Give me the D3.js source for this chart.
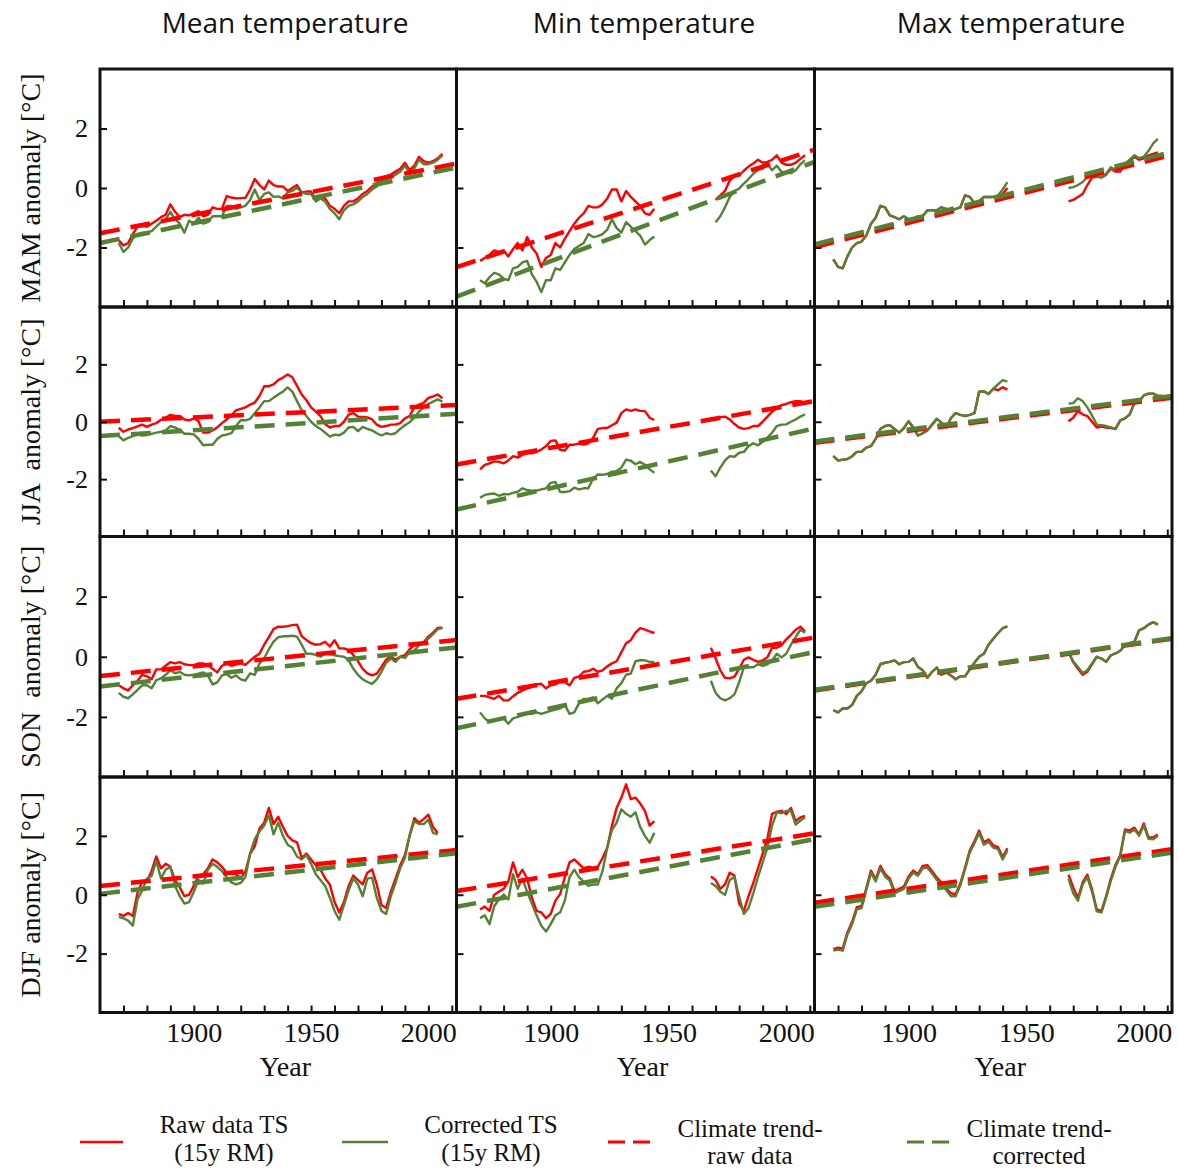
<!DOCTYPE html>
<html>
<head>
<meta charset="utf-8">
<script src="https://cdn.jsdelivr.net/npm/d3@7"></script>
<style>
  html, body { margin: 0; padding: 0; background: #fff; }
  svg { display: block; }
  .serif { font-family: "Liberation Serif", "Times New Roman", serif; fill: #111; }
  .sans { font-family: "Open Sans", "Noto Sans", sans-serif; fill: #111; }
</style>
</head>
<body>
<svg id="chart" width="1178" height="1170"></svg>
<script>
// ---- shared axes / labels ----
const years = [
  1868,
  1870, 1872, 1874, 1876, 1878,
  1880, 1882, 1884, 1886, 1888,
  1890, 1892, 1894, 1896, 1898,
  1900, 1902, 1904, 1906, 1908,
  1910, 1912, 1914, 1916, 1918,
  1920, 1922, 1924, 1926, 1928,
  1930, 1932, 1934, 1936, 1938,
  1940, 1942, 1944, 1946, 1948,
  1950, 1952, 1954, 1956, 1958,
  1960, 1962, 1964, 1966, 1968,
  1970, 1972, 1974, 1976, 1978,
  1980, 1982, 1984, 1986, 1988,
  1990, 1992, 1994, 1996, 1998,
  2000, 2002, 2004, 2006, 2008
];
const columnTitles = ["Mean temperature", "Min temperature", "Max temperature"];
const seasonLabels = ["MAM anomaly [°C]", "JJA  anomaly [°C]", "SON  anomaly [°C]", "DJF anomaly [°C]"];
const yTickValues = [-2, 0, 2];
const xTickValues = [1870, 1880, 1890, 1900, 1910, 1920, 1930, 1940, 1950, 1960, 1970, 1980, 1990, 2000, 2010];
const xLabelValues = [1900, 1950, 2000];
const trendYears = [1860, 2012];

// ---- MAM ----
const mamMeanRaw = [
  -1.76,
  -1.93, -1.85, -1.55, -1.30, -1.28,
  -1.30, -1.20, -1.10, -0.98, -0.90,
  -0.55, -0.80, -0.98, -0.90, -0.92,
  -0.85, -0.78, -0.95, -0.90, -0.65,
  -0.70, -0.70, -0.27, -0.32, -0.35,
  -0.34, -0.33, -0.05, 0.30, 0.10,
  -0.05, 0.25, 0.10, 0.05, 0.05,
  -0.10, 0.00, 0.10, -0.15, -0.12,
  -0.12, -0.40, -0.28, -0.35, -0.60,
  -0.70, -0.85, -0.60, -0.45, -0.45,
  -0.35, -0.20, -0.10, 0.05, 0.15,
  0.35, 0.40, 0.45, 0.55, 0.65,
  0.85, 0.60, 0.75, 1.05, 0.90,
  0.85, 0.90, 1.00, 1.15, null
];
const mamMeanCor = [
  -1.85,
  -2.15, -2.00, -1.70, -1.55, -1.50,
  -1.50, -1.45, -1.30, -1.15, -1.05,
  -0.80, -1.05, -1.20, -1.50, -1.10,
  -1.20, -1.00, -1.20, -1.15, -0.95,
  -0.95, -0.95, -0.60, -0.60, -0.70,
  -0.65, -0.60, -0.40, -0.05, -0.40,
  -0.20, -0.15, -0.30, -0.28, -0.35,
  -0.15, -0.10, 0.00, -0.15, -0.20,
  -0.20, -0.45, -0.35, -0.45, -0.70,
  -0.85, -1.05, -0.75, -0.60, -0.55,
  -0.45, -0.30, -0.20, -0.05, 0.05,
  0.25, 0.30, 0.35, 0.45, 0.55,
  0.75, 0.50, 0.65, 0.95, 0.80,
  0.80, 0.85, 0.95, 1.10, null
];
const mamMinRaw = [
  null,
  -2.45, -2.35, -2.25, -2.10, -2.15,
  -2.10, -2.30, -2.05, -1.85, -2.10,
  -1.65, -2.00, -2.20, -2.65, -2.35,
  -2.25, -1.85, -2.00, -1.70, -1.45,
  -1.20, -1.00, -0.85, -0.60, -0.65,
  -0.65, -0.55, -0.35, -0.05, -0.05,
  -0.45, -0.10, -0.30, -0.45, -0.60,
  -0.85, -0.90, -0.70, null, null,
  null, null, null, null, null,
  null, null, null, null, null,
  -0.40, -0.25, -0.10, 0.25, 0.40,
  0.42, 0.58, 0.72, 0.82, 0.95,
  0.85, 0.88, 0.95, 1.10, 0.85,
  0.78, 0.78, 0.85, 0.98, 1.10
];
const mamMinCor = [
  null,
  -3.10, -3.20, -3.00, -2.85, -2.90,
  -3.05, -3.10, -2.70, -2.65, -2.50,
  -2.45, -2.90, -3.15, -3.50, -3.10,
  -3.10, -2.70, -2.75, -2.50, -2.25,
  -2.05, -1.95, -1.85, -1.55, -1.65,
  -1.62, -1.55, -1.40, -1.05, -1.35,
  -1.50, -1.15, -1.30, -1.45, -1.60,
  -1.90, -1.75, -1.63, null, null,
  null, null, null, null, null,
  null, null, null, null, null,
  -1.15, -0.95, -0.65, -0.30, -0.10,
  -0.02, 0.15, 0.30, 0.48, 0.60,
  0.65, 0.80, 0.60, 0.75, 0.55,
  0.50, 0.50, 0.60, 0.80, 0.93
];
const mamMaxRaw = [
  -2.40,
  -2.65, -2.70, -2.30, -2.00, -1.85,
  -1.80, -1.60, -1.20, -1.00, -0.60,
  -0.65, -0.92, -0.98, -1.05, -0.95,
  -1.05, -1.05, -0.95, -0.95, -0.75,
  -0.75, -0.75, -0.65, -0.70, -0.78,
  -0.70, -0.65, -0.25, -0.30, -0.50,
  -0.45, -0.30, -0.30, -0.30, -0.30,
  -0.20, 0.00, null, null, null,
  null, null, null, null, null,
  null, null, null, null, -0.45,
  -0.40, -0.30, -0.20, 0.10, 0.35,
  0.38, 0.35, 0.45, 0.65, 0.55,
  0.55, 0.78, 0.90, 1.05, 0.95,
  1.00, 1.10, 1.15, 1.20, null
];
const mamMaxCor = [
  -2.40,
  -2.65, -2.70, -2.30, -2.00, -1.85,
  -1.80, -1.60, -1.20, -1.00, -0.60,
  -0.65, -0.92, -0.98, -1.05, -0.95,
  -1.05, -1.05, -0.95, -0.95, -0.75,
  -0.75, -0.75, -0.65, -0.70, -0.78,
  -0.70, -0.65, -0.25, -0.30, -0.50,
  -0.45, -0.30, -0.30, -0.30, -0.25,
  -0.05, 0.20, null, null, null,
  null, null, null, null, null,
  null, null, null, null, 0.00,
  0.03, 0.10, 0.20, 0.37, 0.40,
  0.40, 0.38, 0.48, 0.70, 0.60,
  0.60, 0.82, 0.95, 1.10, 1.00,
  1.05, 1.25, 1.50, 1.65, null
];

// ---- JJA ----
const jjaMeanRaw = [
  -0.21,
  -0.35, -0.27, -0.22, -0.16, -0.10,
  -0.18, -0.10, -0.05, 0.07, 0.14,
  0.24, 0.20, 0.20, 0.08, 0.05,
  0.12, 0.02, -0.38, -0.38, -0.30,
  -0.20, -0.05, 0.08, 0.22, 0.40,
  0.45, 0.50, 0.60, 0.67, 0.90,
  1.24, 1.24, 1.30, 1.45, 1.54,
  1.65, 1.55, 1.25, 0.95, 0.75,
  0.50, 0.35, 0.20, -0.08, -0.20,
  -0.15, -0.15, 0.00, 0.25, 0.30,
  0.18, 0.17, 0.15, 0.08, -0.10,
  -0.18, -0.15, -0.10, -0.10, -0.05,
  0.12, 0.20, 0.50, 0.60, 0.66,
  0.83, 0.88, 0.95, 0.82, null
];
const jjaMeanCor = [
  -0.50,
  -0.65, -0.56, -0.50, -0.44, -0.48,
  -0.46, -0.42, -0.38, -0.35, -0.30,
  -0.15, -0.20, -0.27, -0.42, -0.42,
  -0.44, -0.60, -0.82, -0.80, -0.80,
  -0.60, -0.48, -0.45, -0.40, -0.15,
  0.05, 0.05, 0.10, 0.30, 0.50,
  0.72, 0.72, 0.84, 0.95, 1.05,
  1.20, 1.05, 0.72, 0.40, 0.20,
  0.00, -0.15, -0.25, -0.38, -0.52,
  -0.45, -0.47, -0.38, -0.20, -0.18,
  -0.33, -0.18, -0.25, -0.30, -0.40,
  -0.48, -0.40, -0.44, -0.40, -0.25,
  -0.12, -0.02, 0.15, 0.35, 0.50,
  0.62, 0.70, 0.78, 0.70, null
];
const jjaMinRaw = [
  null,
  -1.66, -1.50, -1.45, -1.38, -1.40,
  -1.45, -1.35, -1.20, -1.25, -1.15,
  -1.10, -1.10, -1.05, -0.97, -0.85,
  -0.67, -0.65, -0.98, -1.00, -0.80,
  -0.80, -0.76, -0.80, -0.75, -0.56,
  -0.25, -0.22, -0.22, -0.12, -0.03,
  0.30, 0.43, 0.38, 0.43, 0.38,
  0.37, 0.14, 0.06, null, null,
  null, null, null, null, null,
  null, null, null, null, 0.10,
  0.10, 0.16, 0.18, 0.08, -0.08,
  -0.20, -0.25, -0.22, -0.15, -0.15,
  0.00, 0.18, 0.35, 0.48, 0.58,
  0.62, 0.68, 0.72, 0.72, 0.66
];
const jjaMinCor = [
  null,
  -2.65, -2.55, -2.52, -2.50, -2.58,
  -2.52, -2.53, -2.48, -2.44, -2.32,
  -2.38, -2.40, -2.40, -2.36, -2.32,
  -2.13, -2.10, -2.45, -2.45, -2.42,
  -2.30, -2.36, -2.32, -2.32, -1.98,
  -1.84, -1.85, -1.82, -1.74, -1.72,
  -1.60, -1.32, -1.36, -1.48, -1.40,
  -1.50, -1.66, -1.78, null, null,
  null, null, null, null, null,
  null, null, null, null, -1.70,
  -1.90, -1.60, -1.35, -1.20, -1.22,
  -1.08, -1.05, -0.85, -0.75, -0.82,
  -0.70, -0.55, -0.38, -0.15, -0.10,
  -0.09, 0.00, 0.08, 0.18, 0.26
];
const jjaMaxRaw = [
  -1.20,
  -1.35, -1.32, -1.30, -1.20, -1.05,
  -1.05, -0.90, -0.85, -0.60, -0.25,
  -0.15, -0.12, -0.25, -0.38, -0.22,
  0.02, -0.20, -0.48, -0.40, -0.30,
  -0.10, 0.10, -0.03, -0.20, 0.12,
  0.30, 0.24, 0.20, 0.24, 0.30,
  1.05, 1.06, 0.97, 1.15, 1.10,
  1.20, 1.12, null, null, null,
  null, null, null, null, null,
  null, null, null, null, 0.02,
  0.14, 0.37, 0.26, 0.20, 0.00,
  -0.20, -0.17, -0.20, -0.22, -0.25,
  0.05, 0.12, 0.25, 0.65, 0.70,
  0.92, 0.98, 0.98, 0.90, 0.90
];
const jjaMaxCor = [
  -1.20,
  -1.35, -1.32, -1.30, -1.20, -1.05,
  -1.05, -0.90, -0.85, -0.60, -0.25,
  -0.15, -0.12, -0.25, -0.38, -0.22,
  0.02, -0.20, -0.48, -0.40, -0.30,
  -0.10, 0.10, -0.03, -0.20, 0.12,
  0.30, 0.24, 0.20, 0.24, 0.30,
  1.05, 1.06, 0.97, 1.15, 1.30,
  1.45, 1.40, null, null, null,
  null, null, null, null, null,
  null, null, null, null, 0.63,
  0.65, 0.82, 0.72, 0.50, 0.22,
  -0.10, -0.12, -0.15, -0.20, -0.25,
  0.05, 0.12, 0.25, 0.65, 0.70,
  0.92, 0.98, 0.98, 0.90, 0.90
];

// ---- SON ----
const sonMeanRaw = [
  -0.95,
  -1.05, -1.12, -0.95, -0.80, -0.60,
  -0.65, -0.75, -0.42, -0.42, -0.30,
  -0.18, -0.22, -0.18, -0.25, -0.28,
  -0.28, -0.22, -0.22, -0.28, -0.40,
  -0.52, -0.30, -0.22, -0.30, -0.26,
  -0.22, -0.27, -0.13, 0.00, 0.10,
  0.40, 0.65, 0.92, 1.00, 1.00,
  1.02, 1.05, 1.07, 0.68, 0.56,
  0.45, 0.40, 0.42, 0.50, 0.34,
  0.55, 0.28, 0.28, 0.22, 0.06,
  -0.15, -0.40, -0.55, -0.62, -0.56,
  -0.34, -0.10, 0.00, -0.10, 0.00,
  0.05, 0.25, 0.38, 0.40, 0.48,
  0.67, 0.80, 0.96, 0.97, null
];
const sonMeanCor = [
  -1.20,
  -1.33, -1.38, -1.25, -1.10, -0.95,
  -0.95, -1.05, -0.78, -0.72, -0.60,
  -0.45, -0.55, -0.50, -0.60, -0.62,
  -0.60, -0.56, -0.52, -0.62, -0.92,
  -0.85, -0.62, -0.58, -0.70, -0.62,
  -0.75, -0.79, -0.55, -0.60, -0.22,
  -0.05, 0.25, 0.50, 0.65, 0.68,
  0.68, 0.70, 0.67, 0.40, 0.10,
  0.10, 0.06, 0.00, 0.10, 0.08,
  0.05, 0.02, 0.00, -0.11, -0.40,
  -0.60, -0.75, -0.84, -0.90, -0.75,
  -0.50, -0.20, -0.06, -0.17, 0.00,
  -0.04, 0.15, 0.20, 0.38, 0.45,
  0.60, 0.75, 0.92, 0.95, null
];
const sonMinRaw = [
  null,
  -1.30, -1.30, -1.35, -1.40, -1.30,
  -1.45, -1.45, -1.32, -1.20, -1.12,
  -1.05, -1.00, -0.92, -0.90, -1.05,
  -0.95, -0.92, -0.84, -0.85, -0.95,
  -0.70, -0.66, -0.50, -0.48, -0.40,
  -0.50, -0.45, -0.32, -0.22, -0.15,
  0.15, 0.45, 0.55, 0.80, 0.95,
  0.90, 0.84, 0.79, null, null,
  null, null, null, null, null,
  null, null, null, null, 0.30,
  -0.05, -0.45, -0.70, -0.72, -0.66,
  -0.40, -0.10, -0.02, -0.10, -0.17,
  -0.12, -0.02, 0.30, 0.30, 0.38,
  0.58, 0.73, 0.90, 1.00, 0.84
];
const sonMinCor = [
  null,
  -1.85, -2.05, -2.17, -2.12, -2.05,
  -2.05, -2.23, -2.05, -2.00, -1.95,
  -1.88, -1.90, -1.85, -1.90, -1.85,
  -1.80, -1.76, -1.72, -1.60, -1.90,
  -1.85, -1.55, -1.40, -1.40, -1.35,
  -1.55, -1.42, -1.30, -1.40, -1.05,
  -0.88, -0.60, -0.56, -0.15, -0.11,
  -0.12, -0.17, -0.17, null, null,
  null, null, null, null, null,
  null, null, null, null, -0.80,
  -1.20, -1.38, -1.45, -1.38, -1.25,
  -0.85, -0.35, -0.35, -0.35, -0.25,
  -0.30, -0.25, -0.12, 0.10, -0.02,
  0.10, 0.40, 0.65, 0.90, 0.80
];
const sonMaxRaw = [
  -1.78,
  -1.85, -1.72, -1.72, -1.60, -1.30,
  -1.15, -0.88, -0.80, -0.60, -0.25,
  -0.20, -0.17, -0.12, -0.25, -0.18,
  -0.17, -0.06, -0.34, -0.45, -0.70,
  -0.50, -0.36, -0.60, -0.52, -0.62,
  -0.75, -0.65, -0.65, -0.42, -0.20,
  0.00, 0.10, 0.40, 0.60, 0.78,
  0.95, 1.01, null, null, null,
  null, null, null, null, null,
  null, null, null, null, 0.15,
  -0.18, -0.40, -0.60, -0.50, -0.25,
  0.00, -0.06, -0.17, 0.05, 0.11,
  0.20, 0.38, 0.45, 0.50, 0.88,
  0.95, 1.07, 1.15, 1.07, null
];
const sonMaxCor = [
  -1.78,
  -1.85, -1.72, -1.72, -1.60, -1.30,
  -1.15, -0.88, -0.80, -0.60, -0.25,
  -0.20, -0.17, -0.12, -0.25, -0.18,
  -0.17, -0.06, -0.34, -0.45, -0.70,
  -0.50, -0.36, -0.60, -0.52, -0.62,
  -0.75, -0.65, -0.65, -0.42, -0.20,
  0.00, 0.10, 0.40, 0.60, 0.78,
  0.95, 1.01, null, null, null,
  null, null, null, null, null,
  null, null, null, null, 0.17,
  -0.15, -0.34, -0.54, -0.45, -0.22,
  0.00, -0.06, -0.17, 0.05, 0.11,
  0.20, 0.38, 0.45, 0.50, 0.88,
  0.95, 1.07, 1.15, 1.07, null
];

// ---- DJF ----
const djfMeanRaw = [
  -0.65,
  -0.72, -0.62, -0.72, 0.07, 0.45,
  0.45, 0.81, 1.30, 0.90, 1.05,
  0.95, 0.50, 0.25, -0.05, 0.00,
  0.30, 0.65, 0.70, 0.90, 1.20,
  1.10, 0.95, 0.75, 0.70, 0.70,
  0.55, 0.80, 1.38, 1.65, 2.25,
  2.45, 2.95, 2.40, 2.65, 2.30,
  2.00, 1.85, 1.78, 1.25, 1.40,
  1.20, 1.00, 0.86, 0.55, 0.35,
  -0.25, -0.60, -0.25, 0.30, 0.65,
  0.50, 0.35, 0.75, 0.86, 0.35,
  -0.35, -0.45, 0.10, 0.55, 1.00,
  1.35, 2.00, 2.60, 2.45, 2.57,
  2.72, 2.30, 2.10, null, null
];
const djfMeanCor = [
  -0.75,
  -0.80, -0.88, -1.05, -0.15, 0.15,
  0.55, 0.64, 1.15, 0.55, 0.85,
  0.95, 0.30, -0.05, -0.30, -0.25,
  0.10, 0.50, 0.38, 0.85, 1.05,
  0.95, 0.80, 0.60, 0.42, 0.35,
  0.40, 0.60, 1.40, 1.90, 2.15,
  2.35, 2.70, 2.05, 2.45, 2.00,
  1.70, 1.60, 1.30, 1.20, 1.35,
  1.05, 0.70, 0.50, 0.30, -0.10,
  -0.55, -0.85, -0.35, 0.15, 0.55,
  0.35, -0.05, 0.55, 0.58, -0.10,
  -0.55, -0.65, -0.05, 0.40, 0.90,
  1.25, 2.00, 2.50, 2.40, 2.40,
  2.55, 2.10, 2.05, null, null
];
const djfMinRaw = [
  null,
  -0.50, -0.40, -0.55, 0.00, 0.10,
  0.20, 0.45, 1.10, 0.60, 0.85,
  0.55, -0.10, -0.55, -0.60, -0.80,
  -0.65, -0.20, 0.02, 0.60, 1.10,
  1.20, 1.05, 0.90, 0.95, 0.92,
  0.95, 1.25, 1.60, 2.35, 2.95,
  3.30, 3.75, 3.25, 3.30, 3.10,
  2.85, 2.35, 2.50, null, null,
  null, null, null, null, null,
  null, null, null, null, 0.62,
  0.50, 0.20, 0.35, 0.75, 0.65,
  -0.30, -0.55, -0.05, 0.40, 0.90,
  1.40, 1.90, 2.75, 2.82, 2.85,
  2.74, 2.95, 2.50, 2.63, 2.68
];
const djfMinCor = [
  null,
  -0.80, -0.70, -1.00, -0.39, -0.16,
  0.01, -0.16, 0.70, 0.20, 0.55,
  0.10, -0.30, -0.70, -1.05, -1.25,
  -1.00, -0.70, -0.60, -0.20, 0.60,
  0.85, 0.60, 0.45, 0.30, 0.35,
  0.35, 0.80, 1.60, 2.20, 2.45,
  2.90, 2.75, 2.65, 2.80, 2.30,
  2.00, 1.77, 2.11, null, null,
  null, null, null, null, null,
  null, null, null, null, 0.40,
  0.30, 0.10, 0.00, 0.50, 0.60,
  -0.05, -0.65, -0.45, 0.05, 0.60,
  1.10, 1.60, 2.35, 2.80, 2.77,
  2.85, 2.85, 2.38, 2.52, 2.63
];
const djfMaxRaw = [
  -1.85,
  -1.80, -1.82, -1.28, -0.92, -0.42,
  -0.38, 0.22, 0.82, 0.52, 0.98,
  0.70, 0.55, 0.12, 0.20, 0.28,
  0.62, 0.82, 0.70, 0.98, 1.00,
  0.80, 0.58, 0.42, 0.22, 0.05,
  0.02, 0.38, 0.92, 1.50, 1.82,
  2.18, 1.78, 1.88, 1.68, 1.62,
  1.28, 1.58, null, null, null,
  null, null, null, null, null,
  null, null, null, null, 0.68,
  0.25, -0.12, 0.42, 0.68, 0.18,
  -0.50, -0.55, -0.05, 0.55, 1.02,
  1.35, 2.22, 2.18, 2.28, 2.05,
  2.42, 1.95, 1.95, 2.05, null
];
const djfMaxCor = [
  -1.90,
  -1.86, -1.90, -1.35, -1.00, -0.50,
  -0.45, 0.15, 0.75, 0.45, 0.90,
  0.62, 0.48, 0.05, 0.12, 0.20,
  0.55, 0.75, 0.65, 0.90, 0.92,
  0.72, 0.50, 0.38, 0.15, -0.05,
  -0.05, 0.32, 0.86, 1.43, 1.75,
  2.10, 1.70, 1.80, 1.60, 1.55,
  1.20, 1.50, null, null, null,
  null, null, null, null, null,
  null, null, null, null, 0.55,
  0.05, -0.20, 0.35, 0.60, 0.10,
  -0.56, -0.60, -0.10, 0.48, 0.95,
  1.30, 2.17, 2.11, 2.22, 2.00,
  2.35, 1.90, 1.88, 2.00, null
];

// ---- linear climate trends, values at trendYears ----
const mamMeanTrendRaw = [-1.52, 0.82];
const mamMeanTrendCor = [-1.85, 0.69];
const mamMinTrendRaw = [-2.66, 1.29];
const mamMinTrendCor = [-3.65, 0.88];
const mamMaxTrendRaw = [-1.99, 1.12];
const mamMaxTrendCor = [-1.90, 1.22];
const jjaMeanTrendRaw = [0.00, 0.58];
const jjaMeanTrendCor = [-0.50, 0.28];
const jjaMinTrendRaw = [-1.49, 0.72];
const jjaMinTrendCor = [-3.06, -0.23];
const jjaMaxTrendRaw = [-0.73, 0.84];
const jjaMaxTrendCor = [-0.69, 0.90];
const sonMeanTrendRaw = [-0.64, 0.56];
const sonMeanTrendCor = [-0.99, 0.31];
const sonMinTrendRaw = [-1.40, 0.64];
const sonMinTrendCor = [-2.38, 0.16];
const sonMaxTrendRaw = [-1.12, 0.60];
const sonMaxTrendCor = [-1.10, 0.62];
const djfMeanTrendRaw = [0.30, 1.52];
const djfMeanTrendCor = [0.03, 1.41];
const djfMinTrendRaw = [0.125, 2.09];
const djfMinTrendCor = [-0.41, 1.89];
const djfMaxTrendRaw = [-0.27, 1.55];
const djfMaxTrendCor = [-0.41, 1.43];

// ---- layout ----
const RED = "#ff0000";
const GREEN = "#548235";
const colEdges = [100, 456.5, 814.5, 1172];
const rowEdges = [69, 307, 536.5, 777, 1012.5];

const panels = [
  [mamMeanRaw, mamMeanCor, mamMeanTrendRaw, mamMeanTrendCor],
  [mamMinRaw, mamMinCor, mamMinTrendRaw, mamMinTrendCor],
  [mamMaxRaw, mamMaxCor, mamMaxTrendRaw, mamMaxTrendCor],
  [jjaMeanRaw, jjaMeanCor, jjaMeanTrendRaw, jjaMeanTrendCor],
  [jjaMinRaw, jjaMinCor, jjaMinTrendRaw, jjaMinTrendCor],
  [jjaMaxRaw, jjaMaxCor, jjaMaxTrendRaw, jjaMaxTrendCor],
  [sonMeanRaw, sonMeanCor, sonMeanTrendRaw, sonMeanTrendCor],
  [sonMinRaw, sonMinCor, sonMinTrendRaw, sonMinTrendCor],
  [sonMaxRaw, sonMaxCor, sonMaxTrendRaw, sonMaxTrendCor],
  [djfMeanRaw, djfMeanCor, djfMeanTrendRaw, djfMeanTrendCor],
  [djfMinRaw, djfMinCor, djfMinTrendRaw, djfMinTrendCor],
  [djfMaxRaw, djfMaxCor, djfMaxTrendRaw, djfMaxTrendCor]
].map((p, i) => ({ row: Math.floor(i / 3), col: i % 3, raw: p[0], cor: p[1], tRaw: p[2], tCor: p[3] }));

const svg = d3.select("#chart");

panels.forEach(p => {
  const x = d3.scaleLinear().domain([1860, 2012]).range([colEdges[p.col], colEdges[p.col + 1]]);
  const y = d3.scaleLinear().domain([-4, 4]).range([rowEdges[p.row + 1], rowEdges[p.row]]);
  const g = svg.append("g");

  const line = d3.line()
    .defined(d => d[1] != null)
    .x(d => x(d[0]))
    .y(d => y(d[1]));
  const pairs = arr => years.map((yr, i) => [yr, arr[i]]);

  // 15-year running means
  g.append("path").datum(pairs(p.raw)).attr("d", line)
    .attr("fill", "none").attr("stroke", RED).attr("stroke-width", 2.4).attr("stroke-linejoin", "round");
  g.append("path").datum(pairs(p.cor)).attr("d", line)
    .attr("fill", "none").attr("stroke", GREEN).attr("stroke-width", 2.4).attr("stroke-linejoin", "round");

  // climate trends
  g.append("path").datum(trendYears.map((yr, i) => [yr, p.tRaw[i]])).attr("d", line)
    .attr("fill", "none").attr("stroke", RED).attr("stroke-width", 4.5).attr("stroke-dasharray", "20,11");
  g.append("path").datum(trendYears.map((yr, i) => [yr, p.tCor[i]])).attr("d", line)
    .attr("fill", "none").attr("stroke", GREEN).attr("stroke-width", 4.5).attr("stroke-dasharray", "20,11");

  // inward ticks
  const yAxis = d3.axisLeft(y).tickValues(yTickValues).tickSize(-7).tickPadding(12)
    .tickFormat(p.col === 0 ? (d => String(d)) : () => "");
  const ya = g.append("g").attr("transform", `translate(${colEdges[p.col]},0)`).call(yAxis);
  ya.select(".domain").remove();
  ya.selectAll("line").attr("stroke", "#111").attr("stroke-width", 2);
  ya.selectAll("text").attr("class", "serif").attr("font-size", 26).attr("font-family", null);

  const xAxis = d3.axisBottom(x).tickValues(xTickValues).tickSize(-7).tickPadding(10)
    .tickFormat(p.row === 3 ? (d => xLabelValues.includes(d) ? String(d) : "") : () => "");
  const xa = g.append("g").attr("transform", `translate(0,${rowEdges[p.row + 1]})`).call(xAxis);
  xa.select(".domain").remove();
  xa.selectAll("line").attr("stroke", "#111").attr("stroke-width", 2);
  xa.selectAll("text").attr("class", "serif").attr("font-size", 28).attr("font-family", null);

  // frame
  g.append("rect")
    .attr("x", colEdges[p.col]).attr("y", rowEdges[p.row])
    .attr("width", colEdges[p.col + 1] - colEdges[p.col])
    .attr("height", rowEdges[p.row + 1] - rowEdges[p.row])
    .attr("fill", "none").attr("stroke", "#111").attr("stroke-width", 3);
});

// column titles
const titleX = [285, 644, 1011];
columnTitles.forEach((t, i) => {
  svg.append("text").attr("class", "sans").attr("x", titleX[i]).attr("y", 33)
    .attr("text-anchor", "middle").attr("font-size", 28).text(t);
});

// season axis labels
seasonLabels.forEach((t, i) => {
  const cy = (rowEdges[i] + rowEdges[i + 1]) / 2;
  svg.append("text").attr("class", "serif")
    .attr("transform", `translate(40,${cy}) rotate(-90)`)
    .attr("text-anchor", "middle").attr("font-size", 28)
    .style("white-space", "pre").text(t);
});

// "Year" under each column
for (let c = 0; c < 3; c++) {
  svg.append("text").attr("class", "serif")
    .attr("x", (colEdges[c] + colEdges[c + 1]) / 2 + 7).attr("y", 1076)
    .attr("text-anchor", "middle").attr("font-size", 28).text("Year");
}

// legend
const legendItems = [
  { x1: 80, x2: 123, color: RED, dash: null, lines: ["Raw data TS", "(15y RM)"], cx: 224, ys: [1133, 1161] },
  { x1: 342, x2: 388, color: GREEN, dash: null, lines: ["Corrected TS", "(15y RM)"], cx: 491, ys: [1133, 1161] },
  { x1: 608, x2: 650, color: RED, dash: "17,8", lines: ["Climate trend-", "raw data"], cx: 750, ys: [1137, 1164] },
  { x1: 907, x2: 950, color: GREEN, dash: "17,8", lines: ["Climate trend-", "corrected"], cx: 1039, ys: [1137, 1164] }
];
legendItems.forEach(it => {
  const ln = svg.append("line").attr("x1", it.x1).attr("x2", it.x2).attr("y1", 1142).attr("y2", 1142)
    .attr("stroke", it.color).attr("stroke-width", it.dash ? 3 : 2.5);
  if (it.dash) ln.attr("stroke-dasharray", it.dash);
  it.lines.forEach((t, k) => {
    svg.append("text").attr("class", "serif").attr("x", it.cx).attr("y", it.ys[k])
      .attr("text-anchor", "middle").attr("font-size", 25).text(t);
  });
});
</script>
</body>
</html>
